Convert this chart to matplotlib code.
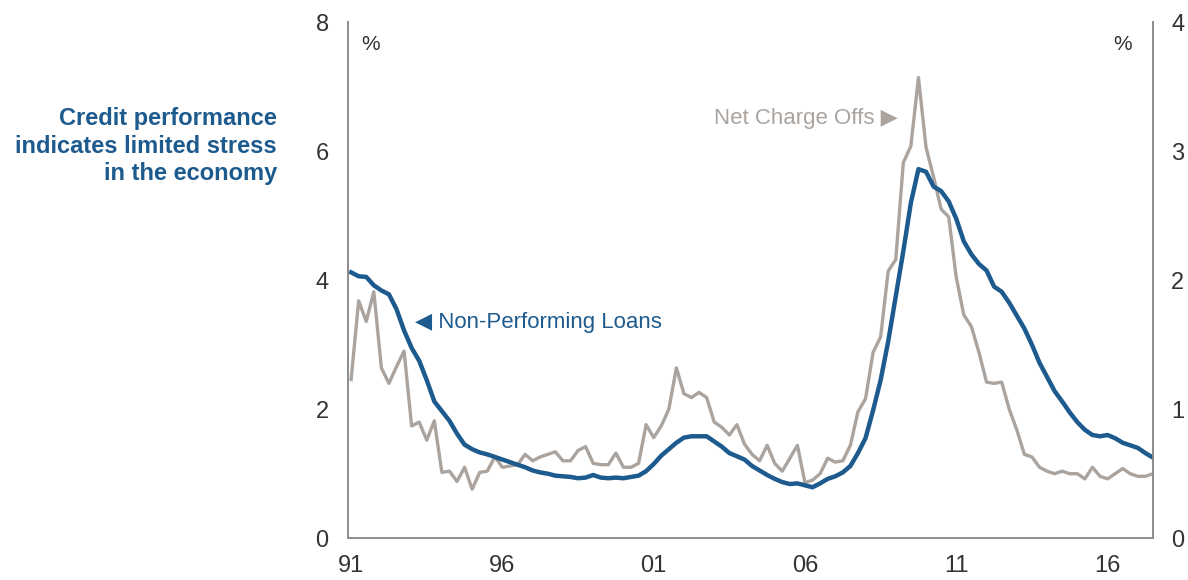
import numpy as np
import matplotlib
matplotlib.use('Agg')
import matplotlib.pyplot as plt

plt.rcParams['font.family'] = ['Liberation Sans', 'DejaVu Sans']

# Quarterly observations, 1991 Q1 .. 2017 Q3
QUARTERS = np.arange(1991, 2017.51, 0.25)

# Non-performing loans, % (left axis)
NPL = [4.12, 4.06, 4.05, 3.92,
       3.84, 3.78, 3.55, 3.22,
       2.95, 2.75, 2.45, 2.12,
       1.97, 1.82, 1.62, 1.45,
       1.38, 1.33, 1.30, 1.26,
       1.22, 1.18, 1.14, 1.10,
       1.05, 1.02, 1.00, 0.97,
       0.96, 0.95, 0.93, 0.94,
       0.98, 0.94, 0.93, 0.94,
       0.93, 0.95, 0.97, 1.04,
       1.15, 1.28, 1.38, 1.48,
       1.56, 1.58, 1.58, 1.58,
       1.50, 1.42, 1.32, 1.27,
       1.22, 1.12, 1.05, 0.98,
       0.92, 0.87, 0.84, 0.85,
       0.82, 0.79, 0.85, 0.92,
       0.96, 1.02, 1.12, 1.32,
       1.55, 1.98, 2.45, 3.05,
       3.75, 4.45, 5.20, 5.72,
       5.68, 5.45, 5.38, 5.22,
       4.95, 4.60, 4.40, 4.25,
       4.15, 3.90, 3.82, 3.65,
       3.45, 3.25, 3.00, 2.72,
       2.50, 2.28, 2.12, 1.95,
       1.80, 1.68, 1.60, 1.58,
       1.60, 1.55, 1.48, 1.44,
       1.40, 1.32, 1.25]

# Net charge offs, % (right axis)
NCO = [1.23, 1.84, 1.68, 1.91,
       1.32, 1.20, 1.33, 1.45,
       0.87, 0.90, 0.76, 0.91,
       0.51, 0.52, 0.44, 0.55,
       0.38, 0.51, 0.52, 0.63,
       0.55, 0.56, 0.57, 0.65,
       0.60, 0.63, 0.65, 0.67,
       0.60, 0.60, 0.68, 0.71,
       0.58, 0.57, 0.57, 0.66,
       0.55, 0.55, 0.58, 0.88,
       0.78, 0.87, 1.00, 1.32,
       1.12, 1.09, 1.13, 1.09,
       0.90, 0.86, 0.80, 0.88,
       0.73, 0.65, 0.60, 0.72,
       0.58, 0.52, 0.62, 0.72,
       0.43, 0.45, 0.50, 0.62,
       0.59, 0.60, 0.72, 0.98,
       1.08, 1.44, 1.56, 2.07,
       2.16, 2.91, 3.04, 3.57,
       3.03, 2.80, 2.55, 2.49,
       2.02, 1.73, 1.64, 1.44,
       1.21, 1.20, 1.21, 1.00,
       0.84, 0.65, 0.63, 0.55,
       0.52, 0.50, 0.52, 0.50,
       0.50, 0.46, 0.55, 0.48,
       0.46, 0.50, 0.54, 0.50,
       0.48, 0.48, 0.50]

X_TICKS = [1991, 1996, 2001, 2006, 2011, 2016]
X_LABELS = ['91', '96', '01', '06', '11', '16']
LEFT_TICKS = [0, 2, 4, 6, 8]
RIGHT_TICKS = [0, 1, 2, 3, 4]

BLUE = '#1d5a8e'
GREY = '#aaa39e'
SPINE = '#8c8c8c'
TICKTEXT = '#333333'

fig = plt.figure(figsize=(11.88, 5.80), dpi=100)
ax = fig.add_axes([0.293, 0.072, 0.6775, 0.890])
ax2 = ax.twinx()

ax2.plot(QUARTERS, NCO, color=GREY, lw=2.4, solid_joinstyle='round')
ax.plot(QUARTERS, NPL, color=BLUE, lw=3.2, solid_joinstyle='round')

# keep the blue series above the grey one
ax.set_zorder(ax2.get_zorder() + 1)
ax.patch.set_visible(False)

ax.set_xlim(1990.9, 2017.5)
ax.set_ylim(0, 8)
ax2.set_ylim(0, 4)
ax.set_xticks(X_TICKS, X_LABELS)
ax.set_yticks(LEFT_TICKS)
ax2.set_yticks(RIGHT_TICKS)

for a in (ax, ax2):
    a.spines['top'].set_visible(False)
    for s in ('left', 'right', 'bottom'):
        a.spines[s].set_color(SPINE)
        a.spines[s].set_linewidth(1.2)
    a.tick_params(length=0, labelsize=17, colors=TICKTEXT)
ax.tick_params(axis='y', pad=14)
ax2.tick_params(axis='y', pad=13)
ax.tick_params(axis='x', pad=12)

ax.text(0.028, 0.975, '%', transform=ax.transAxes, fontsize=15,
        color=TICKTEXT, va='top', ha='center')
ax.text(0.962, 0.975, '%', transform=ax.transAxes, fontsize=15,
        color=TICKTEXT, va='top', ha='center')

ax.text(1993.1, 3.35, '\u25c0 Non-Performing Loans', fontsize=16,
        color=BLUE, va='center', ha='left',
        family=['Liberation Sans', 'DejaVu Sans'])
ax.text(2009.05, 6.5, 'Net Charge Offs \u25b6', fontsize=16,
        color=GREY, va='center', ha='right',
        family=['Liberation Sans', 'DejaVu Sans'])

fig.text(0.233, 0.748, 'Credit performance\nindicates limited stress\nin the economy',
         fontsize=17, fontweight='bold', color=BLUE, ha='right', va='center',
         linespacing=1.25)

fig.savefig('out.png', dpi=100)
